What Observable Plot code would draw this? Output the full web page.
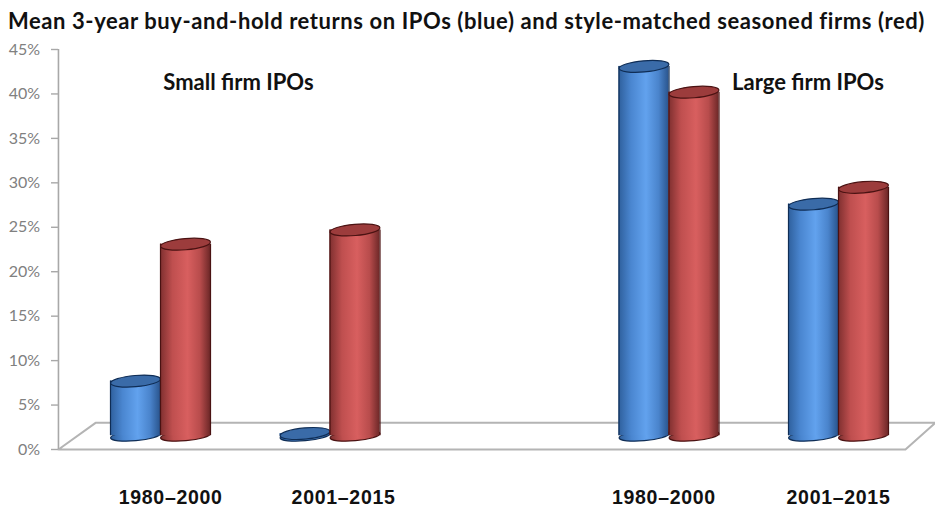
<!DOCTYPE html>
<html><head><meta charset="utf-8">
<script src="https://cdn.jsdelivr.net/npm/d3@7"></script>
<script src="https://cdn.jsdelivr.net/npm/@observablehq/plot@0.6"></script>
<style>
html,body{margin:0;padding:0;background:#fff}
#title{height:32px;font:700 22px/41px Lato,sans-serif;letter-spacing:.58px;color:#111;white-space:nowrap;width:935px;box-sizing:border-box;padding-left:8px}
svg{display:block}
.period text{letter-spacing:.7px}
</style></head><body>
<div id="title">Mean 3-year buy-and-hold returns on IPOs (blue) and style-matched seasoned firms (red)</div>
<div id="chart"></div>
<script>
const slots = [0, 1, 3, 4];
const blueReturns = [7.7, 1.8, 43.1, 27.6];
const redReturns = [23.1, 24.7, 40.2, 29.5];
const yTicks = [0,5,10,15,20,25,30,35,40,45];
const periods = ["1980–2000","2001–2015","1980–2000","2001–2015"];
const periodSlots = [0.06, 1.08, 2.97, 4.0];
const baseLevel = 1.55;     // cylinder bases sit on the floor of the 3-D box
const halfBar = 0.1475;     // half a bar's width in slot units
const floorX = [-0.602, 4.395, 4.572, -0.383, -0.602];
const floorY = [0, 0, 3, 3, 0];
const panelLabelX = [0.46, 3.82];
const panelLabelY = [41.2, 41.2];
const panelLabels = ["Small firm IPOs", "Large firm IPOs"];

const data = slots.map((k,i)=>({slot:k, blue:blueReturns[i], red:redReturns[i]}));

function ellipseSymbol(rx, ry){
  return {draw(c){
    const k=0.5523;
    c.moveTo(-rx,0);
    c.bezierCurveTo(-rx,-k*ry,-k*rx,-ry,0,-ry);
    c.bezierCurveTo(k*rx,-ry,rx,-k*ry,rx,0);
    c.bezierCurveTo(rx,k*ry,k*rx,ry,0,ry);
    c.bezierCurveTo(-k*rx,ry,-rx,k*ry,-rx,0);
    c.closePath();
  }};
}
const lid = ellipseSymbol(25,5.6), foot = ellipseSymbol(25,5);

function series(offset, key, grad, top, edge){
  const cx = d=>d.slot+offset;
  const tall = data.filter(d=>d[key]>baseLevel+1);   // the flat disc has no visible wall
  return [
    Plot.dot(data,{x:cx,y:()=>baseLevel,symbol:foot,r:3,rotate:-5,fill:`url(#${grad})`,stroke:edge,strokeWidth:1.2}),
    Plot.rect(data,{x1:d=>cx(d)-halfBar,x2:d=>cx(d)+halfBar,y1:()=>baseLevel,y2:d=>d[key],fill:`url(#${grad})`}),
    Plot.ruleX(tall,{x:d=>cx(d)-halfBar,y1:()=>baseLevel,y2:d=>d[key],stroke:edge,strokeWidth:1.2}),
    Plot.ruleX(tall,{x:d=>cx(d)+halfBar,y1:()=>baseLevel,y2:d=>d[key],stroke:edge,strokeWidth:1.2}),
    Plot.dot(data,{x:cx,y:d=>d[key],symbol:lid,r:3,rotate:-5,fill:top,stroke:edge,strokeWidth:1.2})
  ];
}

const chart = Plot.plot({
  width:935, height:476,
  marginTop:0, marginBottom:0, marginLeft:0, marginRight:0,
  x:{domain:[0,4], range:[160,838], axis:null},
  y:{domain:[0,45], range:[417,17], axis:null},
  style:{background:"#fff"},
  marks:[
    Plot.line(floorX.map((x,i)=>({x,y:floorY[i]})),{x:"x",y:"y",stroke:"#b4b4b4",strokeWidth:2}),
    Plot.ruleY(yTicks,{x1:-0.643,x2:-0.602,stroke:"#a8a8a8",strokeWidth:1.4}),
    Plot.ruleX([-0.602],{y1:0,y2:45,stroke:"#a8a8a8",strokeWidth:1.6}),
    Plot.text(yTicks,{x:-0.71,y:d=>d,text:d=>d+"%",textAnchor:"end",fill:"#808080",fontSize:16,fontFamily:"Lato"}),
    ...series(-halfBar,"blue","blueGrad","#3a6ba8","#0f2d55"),
    ...series(halfBar,"red","redGrad","#9c3c3c","#4a1212"),
    Plot.text(panelLabels,{x:(d,i)=>panelLabelX[i],y:(d,i)=>panelLabelY[i],text:d=>d,fontSize:22,fontWeight:700,fontFamily:"Lato",fill:"#111"}),
    Plot.text(periods,{x:(d,i)=>periodSlots[i],y:()=>-5.4,text:d=>d,fontSize:19.5,fontWeight:"bold",fontFamily:"Liberation Sans",fill:"#111",className:"period"})
  ]
});
const defs = d3.select(chart).insert("defs",":first-child");
function grad(id,stops){
  const g=defs.append("linearGradient").attr("id",id).attr("x1",0).attr("x2",1).attr("y1",0).attr("y2",0);
  stops.forEach(([o,c])=>g.append("stop").attr("offset",o).attr("stop-color",c));
}
grad("blueGrad",[[0,"#2e5f9c"],[0.25,"#4a86d0"],[0.55,"#62a2ee"],[0.8,"#4a84cc"],[1,"#2a558e"]]);
grad("redGrad",[[0,"#7e2f2f"],[0.25,"#bf4f4f"],[0.55,"#d85f5f"],[0.8,"#b84c4c"],[1,"#6e2828"]]);
document.getElementById("chart").append(chart);
</script>
</body></html>
